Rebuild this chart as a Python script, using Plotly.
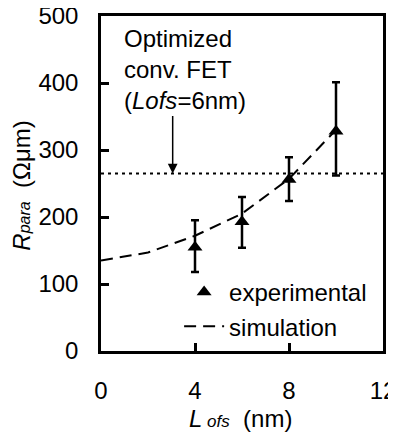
import plotly.graph_objects as go

# Data
exp_x = [4, 6, 8, 10]
exp_y = [155, 193, 256, 328]
exp_err_plus = [40, 37, 33, 73]
exp_err_minus = [37, 39, 32, 66]

sim_x = [0, 2, 4, 6, 8, 10]
sim_y = [135, 147, 172, 205, 257, 330]

conv_fet_level = 265
x_ticks = [0, 4, 8, 12]
y_ticks = [0, 100, 200, 300, 400, 500]

FONT = "Liberation Sans, Arial, sans-serif"

fig = go.Figure()

fig.add_trace(go.Scatter(
    x=[0, 12], y=[conv_fet_level, conv_fet_level], mode="lines",
    line=dict(color="black", width=2, dash="3px,4px"),
    showlegend=False, hoverinfo="skip"))

fig.add_trace(go.Scatter(
    x=exp_x, y=exp_y, mode="markers", name="experimental",
    marker=dict(symbol="triangle-up", size=13, color="black"),
    error_y=dict(type="data", symmetric=False, array=exp_err_plus,
                 arrayminus=exp_err_minus, color="black", thickness=2.5, width=4)))

fig.add_trace(go.Scatter(
    x=sim_x, y=sim_y, mode="lines", name="simulation",
    line=dict(color="black", width=2, dash="12px,7px")))

fig.add_annotation(
    x=0.9, y=490, xref="x", yref="y", xanchor="left", yanchor="top",
    text="Optimized<br>conv. FET<br>(<i>Lofs</i>=6nm)", showarrow=False,
    align="left", font=dict(family=FONT, size=24, color="black"))

fig.add_annotation(
    x=3.05, y=conv_fet_level, ax=3.05, ay=353, xref="x", yref="y",
    axref="x", ayref="y", text="", showarrow=True, arrowhead=2,
    arrowsize=1.3, arrowwidth=1.5, arrowcolor="black")

# axis titles
fig.add_annotation(
    x=-0.285, y=0.4925, xref="paper", yref="paper", textangle=-90,
    text="<i>R</i><i><span style='font-size:16px'>para</span></i>  (Ωμm)",
    showarrow=False, xanchor="center", yanchor="middle",
    font=dict(family=FONT, size=24, color="black"))
fig.add_annotation(
    x=0.496, y=-0.2, xref="paper", yref="paper",
    text="<i>L</i><i><span style='font-size:17px'> ofs</span></i>  (nm)",
    showarrow=False, xanchor="center", yanchor="middle",
    font=dict(family=FONT, size=24, color="black"))

fig.update_layout(
    width=396, height=435,
    margin=dict(l=93, r=21, t=8, b=92),
    paper_bgcolor="white", plot_bgcolor="white",
    font=dict(family=FONT, size=24, color="black"),
    showlegend=True,
    legend=dict(x=0.277, y=0.242, xanchor="left", yanchor="top",
                bgcolor="rgba(0,0,0,0)", font=dict(size=24),
                tracegroupgap=0, itemwidth=40),
    xaxis=dict(range=[0, 12], tickvals=x_ticks, ticks="inside", ticklen=8,
               tickwidth=2.5, tickcolor="black", showline=True, linewidth=2.5,
               linecolor="black", mirror=True, showgrid=False, zeroline=False,
               ticklabelstandoff=16, automargin=False, ticklabeloverflow="allow"),
    yaxis=dict(range=[0, 500], tickvals=y_ticks, ticks="inside", ticklen=8,
               tickwidth=2.5, tickcolor="black", showline=True, linewidth=2.5,
               linecolor="black", mirror=True, showgrid=False, zeroline=False,
               ticklabelstandoff=15, automargin=False, ticklabeloverflow="allow"),
)

fig.write_html("out.html")
